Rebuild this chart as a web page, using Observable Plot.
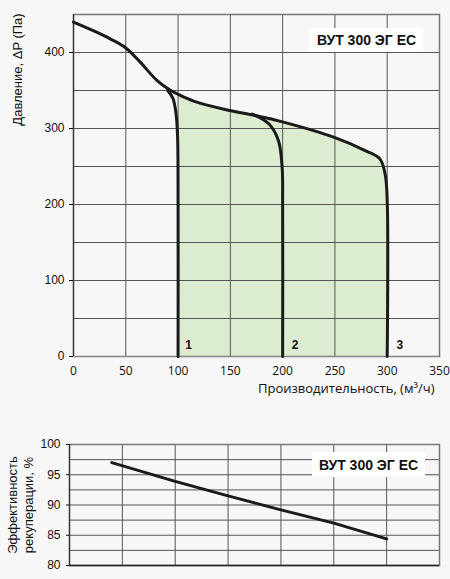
<!DOCTYPE html>
<html>
<head>
<meta charset="utf-8">
<script src="https://cdn.jsdelivr.net/npm/d3@7"></script>
<script src="https://cdn.jsdelivr.net/npm/@observablehq/plot@0.6"></script>
<style>
  html, body { margin: 0; padding: 0; background: #f7f7f7; }
  #wrap { position: relative; width: 450px; height: 579px; background: #f7f7f7; overflow: hidden; }
  #wrap svg { position: absolute; left: 0; }
  .tag { position: absolute; background: #fff; font: bold 14px "Liberation Sans", Arial, sans-serif; color: #111;
         display: flex; align-items: center; justify-content: center; }
</style>
</head>
<body>
<div id="wrap"></div>
<script>
// ---- Data: pressure chart ----
const fanX = [0, 20, 35, 50, 64, 80, 93, 100, 115, 145, 174, 199, 250, 279, 293, 298, 300, 300];
const fanY = [440, 428, 418, 406, 387, 363, 350, 345, 336, 325, 317, 309, 288, 271, 260, 240, 205, 0];
const curve1X = [90, 95, 98, 99.5, 100, 100];
const curve1Y = [350, 340, 320, 290, 200, 0];
const curve2X = [171, 187, 196, 199.5, 200, 200];
const curve2Y = [319, 306, 284, 249, 200, 0];
const curveLabels = ["1", "2", "3"];
const curveLabelX = [110, 212, 312];
const curveLabelY = [15, 15, 15];
const pressureTicks = [0, 100, 200, 300, 400];
const pressureGrid = [50, 100, 150, 200, 250, 300, 350, 400];
const flowTicks = [0, 50, 100, 150, 200, 250, 300, 350];
const flowGrid = [50, 100, 150, 200, 250, 300];

// ---- Data: efficiency chart ----
const effX = [40, 100, 150, 200, 250, 300];
const effY = [97, 93.9, 91.5, 89.2, 87.0, 84.4];
const effTicks = [80, 85, 90, 95, 100];
const effGrid = [82.5, 85, 87.5, 90, 92.5, 95, 97.5];

const title = "ВУТ 300 ЭГ ЕС";
const pressureLabel = "Давление, ΔP (Па)";
const flowLabel = "Производительность, (м³/ч)";
const effLabel1 = "Эффективность";
const effLabel2 = "рекуперации, %";

const toPts = (xs, ys) => xs.map((x, i) => ({x, y: ys[i]}));
const fan = toPts(fanX, fanY);
const fill = fan.filter(d => d.x >= 100);
const c1 = toPts(curve1X, curve1Y);
const c2 = toPts(curve2X, curve2Y);
const labs = curveLabels.map((t, i) => ({t, x: curveLabelX[i], y: curveLabelY[i]}));
const eff = toPts(effX, effY);

const sans = "'Liberation Sans', Arial, Helvetica, sans-serif";
const open = "'Open Sans', 'DejaVu Sans', sans-serif";
const gridColor = "#555";
const lineColor = "#1a1a1a";

const chart1 = Plot.plot({
  width: 450, height: 400,
  marginLeft: 73, marginRight: 11, marginTop: 14, marginBottom: 44,
  style: {background: "transparent", fontFamily: sans, fontSize: "12px", color: "#111", overflow: "visible"},
  x: {domain: [0, 350]},
  y: {domain: [0, 450]},
  marks: [
    Plot.areaY(fill, {x: "x", y: "y", y1: 0, fill: "#dcecd0", curve: "catmull-rom"}),
    Plot.gridX(flowGrid, {stroke: gridColor, strokeOpacity: 1}),
    Plot.gridY(pressureGrid, {stroke: gridColor, strokeOpacity: 1}),
    Plot.frame({stroke: "#777", strokeWidth: 1.5}),
    Plot.ruleX([0], {stroke: "#333", strokeWidth: 1.2}),
    Plot.ruleY([0], {stroke: "#888", strokeWidth: 1.2}),
    Plot.axisY(pressureTicks, {tickSize: 4, tickPadding: 5, label: null, fontSize: 12, fontFamily: sans}),
    Plot.axisX(flowTicks, {tickSize: 0, tickPadding: 10, label: null, fontSize: 12, fontFamily: open}),
    Plot.line(fan, {x: "x", y: "y", stroke: lineColor, strokeWidth: 3, curve: "catmull-rom"}),
    Plot.line(c1, {x: "x", y: "y", stroke: lineColor, strokeWidth: 3, curve: "catmull-rom"}),
    Plot.line(c2, {x: "x", y: "y", stroke: lineColor, strokeWidth: 3, curve: "catmull-rom"}),
    Plot.text(labs, {x: "x", y: "y", text: "t", fontWeight: "bold", fontSize: 12, fontFamily: sans, fill: "#111"}),
    Plot.text([flowLabel], {text: d => d, frameAnchor: "bottom-right", textAnchor: "end", dx: -5, dy: 36,
                            fontSize: 13, fontFamily: open, fill: "#111"}),
    Plot.text([pressureLabel], {text: d => d, frameAnchor: "top-left", rotate: -90, textAnchor: "middle",
                                dx: -61, dy: 55, fontSize: 13, fontFamily: sans, fill: "#111"})
  ]
});
chart1.style.top = "0px";

const chart2 = Plot.plot({
  width: 450, height: 146,
  marginLeft: 69, marginRight: 11, marginTop: 14, marginBottom: 11,
  style: {background: "transparent", fontFamily: sans, fontSize: "12px", color: "#111", overflow: "visible"},
  x: {domain: [0, 350], axis: null},
  y: {domain: [80, 100]},
  marks: [
    Plot.gridX(flowGrid, {stroke: gridColor, strokeOpacity: 1}),
    Plot.gridY(effGrid, {stroke: gridColor, strokeOpacity: 1}),
    Plot.frame({stroke: "#777", strokeWidth: 1.5}),
    Plot.ruleX([0], {stroke: "#333", strokeWidth: 1.2}),
    Plot.ruleY([80], {stroke: "#222", strokeWidth: 1.5}),
    Plot.axisY(effTicks, {tickSize: 3, tickPadding: 6, label: null, fontSize: 12, fontFamily: sans}),
    Plot.line(eff, {x: "x", y: "y", stroke: lineColor, strokeWidth: 3}),
    Plot.text([effLabel1], {text: d => d, frameAnchor: "left", rotate: -90, textAnchor: "middle",
                            dx: -57, fontSize: 13, fontFamily: sans, fill: "#111"}),
    Plot.text([effLabel2], {text: d => d, frameAnchor: "left", rotate: -90, textAnchor: "middle",
                            dx: -41, fontSize: 13, fontFamily: sans, fill: "#111"})
  ]
});
chart2.style.top = "430px";

const wrap = document.getElementById("wrap");
wrap.appendChild(chart1);
wrap.appendChild(chart2);

function tag(left, top, w, h) {
  const d = document.createElement("div");
  d.className = "tag";
  d.textContent = title;
  Object.assign(d.style, {left: left + "px", top: top + "px", width: w + "px", height: h + "px"});
  wrap.appendChild(d);
}
tag(310, 28, 113, 24);
tag(312, 452, 113, 25);
</script>
</body>
</html>
